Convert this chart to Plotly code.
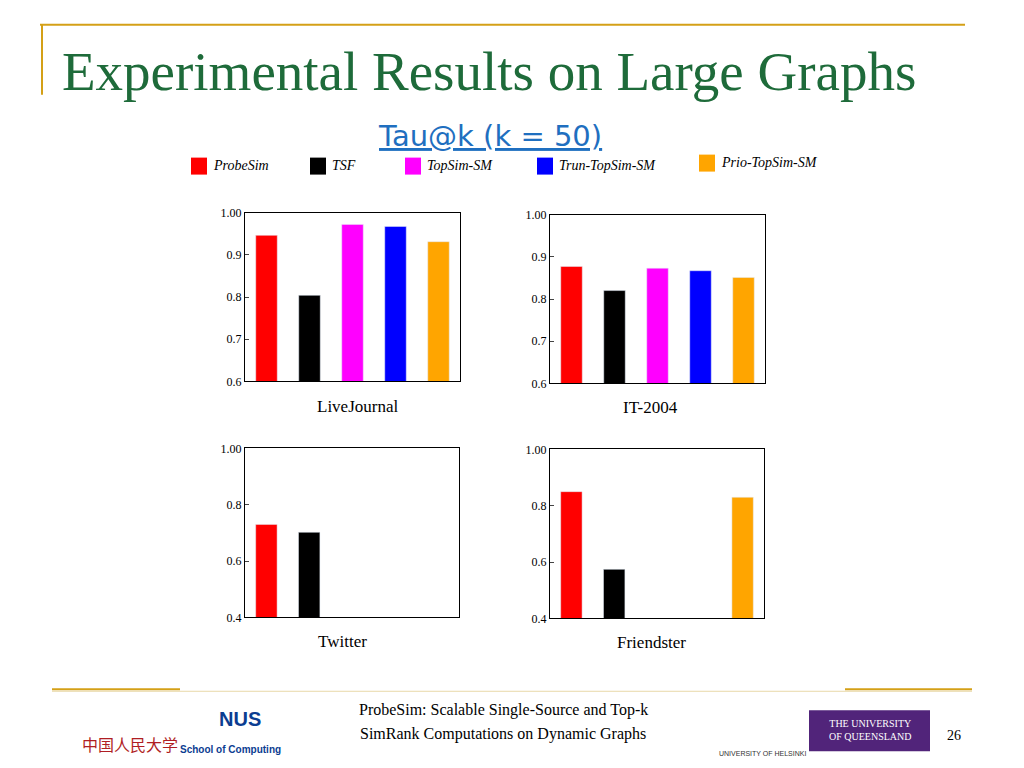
import plotly.graph_objects as go
from plotly.subplots import make_subplots

# page has 8px body margin, so the figure is a bit smaller than the window
OFF = 8
W, H = 1024 - 2 * OFF, 768 - 2 * OFF

ALGOS = ["ProbeSim", "TSF", "TopSim-SM", "Trun-TopSim-SM", "Prio-TopSim-SM"]
COLORS = ["#FF0000", "#000000", "#FF00FF", "#0000FF", "#FFA500"]

livejournal = [0.946, 0.804, 0.972, 0.967, 0.931]
it2004 = [0.877, 0.820, 0.873, 0.867, 0.851]
twitter = [0.730, 0.702, None, None, None]
friendster = [0.850, 0.574, None, None, 0.830]

DATASETS = ["LiveJournal", "IT-2004", "Twitter", "Friendster"]
SERIES = [livejournal, it2004, twitter, friendster]
Y_RANGES = [[0.6, 1.0], [0.6, 1.0], [0.4, 1.0], [0.4, 1.0]]
Y_TICKS = [[0.6, 0.7, 0.8, 0.9, 1.0], [0.6, 0.7, 0.8, 0.9, 1.0],
           [0.4, 0.6, 0.8, 1.0], [0.4, 0.6, 0.8, 1.0]]

# pixel boxes of each panel: x0, x1, y0(top), y1(bottom)
BOXES = [(245, 460, 213, 382), (550, 765, 215, 384),
         (245, 459, 449, 618), (550, 764, 450, 619)]
LABEL_POS = [(357, 407), (650, 408), (342, 642), (651, 643)]


def px(x):
    return (x - OFF) / W


def py(y):
    # empirical correction for how the page ends up photographed
    y = (y - 7.45) / 0.982
    return 1 - (y - OFF) / H


fig = make_subplots(rows=2, cols=2)
for i, (vals, box) in enumerate(zip(SERIES, BOXES)):
    r, c = i // 2 + 1, i % 2 + 1
    fig.add_trace(go.Bar(x=ALGOS, y=vals, marker_color=COLORS, width=0.5,
                         showlegend=False), row=r, col=c)
    ax = "" if i == 0 else str(i + 1)
    fig.layout["xaxis" + ax].update(domain=[px(box[0]), px(box[1])], showticklabels=False,
                                    ticks="", showline=True, mirror=True, linecolor="black",
                                    linewidth=1, showgrid=False)
    fig.layout["yaxis" + ax].update(domain=[py(box[3]), py(box[2])], range=Y_RANGES[i],
                                    tickvals=Y_TICKS[i],
                                    ticktext=["1.00" if t == 1.0 else f"{t:g}" for t in Y_TICKS[i]],
                                    ticks="inside", ticklen=4, showline=True, mirror=True,
                                    linecolor="black", linewidth=1, showgrid=False,
                                    tickfont=dict(family="Liberation Serif", size=12, color="black"))

ann = []
for name, (x, y) in zip(DATASETS, LABEL_POS):
    ann.append(dict(x=px(x), y=py(y), text=name,
                    font=dict(family="Liberation Serif", size=17, color="black")))

shapes = []
LEG = [(191, 158), (310, 158), (405, 158), (537, 158), (699, 155)]
for name, col, (x, y) in zip(ALGOS, COLORS, LEG):
    shapes.append(dict(type="rect", x0=px(x), x1=px(x + 16),
                       y0=py(y + 17), y1=py(y), fillcolor=col, line_width=0))
    ann.append(dict(x=px(x + 20), y=py(y + 8), text=f"<i>{name}</i>", xanchor="left",
                    font=dict(family="Liberation Serif", size=14, color="black")))

gold = "#D4A017"
shapes += [
    dict(type="line", x0=px(40), x1=px(965), y0=py(25), y1=py(25),
         line=dict(color=gold, width=2)),
    dict(type="line", x0=px(42), x1=px(42), y0=py(25), y1=py(95),
         line=dict(color=gold, width=2)),
    dict(type="line", x0=px(52), x1=px(972), y0=py(692), y1=py(692),
         line=dict(color="#E8D9A8", width=1)),
    dict(type="line", x0=px(52), x1=px(180), y0=py(690), y1=py(690),
         line=dict(color=gold, width=2)),
    dict(type="line", x0=px(845), x1=px(972), y0=py(690), y1=py(690),
         line=dict(color=gold, width=2)),
    dict(type="rect", x0=px(809), x1=px(930), y0=py(752), y1=py(711),
         fillcolor="#51247A", line_width=0),
]
for s in shapes:
    s.update(xref="paper", yref="paper")

ann += [
    dict(x=px(60), y=py(72), text="Experimental Results on Large Graphs", xanchor="left",
         font=dict(family="Liberation Serif", size=55, color="#1E6B3A")),
    dict(x=px(490), y=py(136), text="<u>Tau@k (k = 50)</u>",
         font=dict(family="DejaVu Sans", size=29, color="#1F6FC0")),
    dict(x=px(503), y=py(711), text="ProbeSim: Scalable Single-Source and Top-k",
         font=dict(family="Liberation Serif", size=16, color="black")),
    dict(x=px(503), y=py(735), text="SimRank Computations on Dynamic Graphs",
         font=dict(family="Liberation Serif", size=16, color="black")),
    dict(x=px(954), y=py(736), text="26",
         font=dict(family="Liberation Serif", size=14, color="black")),
    dict(x=px(130), y=py(745), text="中国人民大学",
         font=dict(family="Noto Sans CJK SC", size=16, color="#B01E23")),
    dict(x=px(240), y=py(720), text="<b>NUS</b>",
         font=dict(family="Liberation Sans", size=20, color="#0B3D91")),
    dict(x=px(230), y=py(750), text="<b>School of Computing</b>",
         font=dict(family="Liberation Sans", size=10, color="#0B3D91")),
    dict(x=px(762), y=py(754), text="UNIVERSITY OF HELSINKI",
         font=dict(family="Liberation Sans", size=7, color="#333")),
    dict(x=px(870), y=py(731), text="THE UNIVERSITY<br>OF QUEENSLAND",
         font=dict(family="Liberation Serif", size=10, color="white")),
]
for a in ann:
    a.setdefault("xanchor", "center")
    a.update(xref="paper", yref="paper", showarrow=False, yanchor="middle")

fig.update_layout(width=W, height=H, margin=dict(l=0, r=0, t=0, b=0),
                  plot_bgcolor="white", paper_bgcolor="white",
                  annotations=ann, shapes=shapes, bargap=0.5)
fig.write_html("out.html")
